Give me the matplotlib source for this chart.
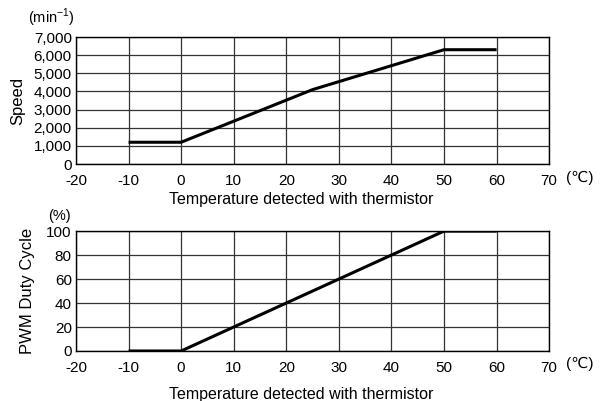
import matplotlib
matplotlib.use("Agg")
import matplotlib.pyplot as plt

plt.rcParams["font.family"] = ["Liberation Sans", "DejaVu Sans"]

temp_ticks = [-20, -10, 0, 10, 20, 30, 40, 50, 60, 70]
temp_labels = ["-20", "-10", "0", "10", "20", "30", "40", "50", "60", "70"]

speed_temp = [-10, 0, 25, 50, 60]
speed_rpm = [1200, 1200, 4100, 6300, 6300]
speed_ticks = [0, 1000, 2000, 3000, 4000, 5000, 6000, 7000]
speed_labels = ["0", "1,000", "2,000", "3,000", "4,000", "5,000", "6,000", "7,000"]

duty_temp = [-10, 0, 50, 60]
duty_pct = [0, 0, 100, 100]
duty_ticks = [0, 20, 40, 60, 80, 100]

fig = plt.figure(figsize=(6.02, 4.01), dpi=100)
ax1 = fig.add_axes([0.1262, 0.591, 0.786, 0.3167])
ax2 = fig.add_axes([0.1262, 0.1247, 0.786, 0.299])


def style(ax, yticks, ylabels, ylim, xpad):
    ax.set_xlim(-20, 70)
    ax.set_ylim(*ylim)
    ax.set_xticks(temp_ticks)
    ax.set_xticklabels(temp_labels)
    ax.set_yticks(yticks)
    ax.set_yticklabels(ylabels)
    ax.tick_params(length=0, labelsize=11)
    ax.tick_params(axis="x", pad=7)
    ax.tick_params(axis="y", pad=3)
    ax.grid(True, color="#333333", lw=0.9)
    for s in ax.spines.values():
        s.set_linewidth(1.0)
        s.set_color("black")
    ax.set_xlabel("Temperature detected with thermistor", fontsize=11.5,
                  labelpad=xpad, x=0.475)
    ax.text(1.036, -0.11, "(℃)", transform=ax.transAxes, fontsize=11,
            ha="left", va="center")


style(ax1, speed_ticks, speed_labels, (0, 7000), 3)
ax1.plot(speed_temp, speed_rpm, color="black", lw=2.2, solid_capstyle="butt")
ax1.set_ylabel("Speed", fontsize=12, labelpad=6)
ax1.text(-0.053, 1.06, "(min$^{\\mathregular{-1}}$)", transform=ax1.transAxes,
         fontsize=10.5, ha="center", va="bottom")

style(ax2, duty_ticks, [str(v) for v in duty_ticks], (0, 100), 9)
ax2.plot(duty_temp, duty_pct, color="black", lw=2.2, solid_capstyle="butt")
ax2.set_ylabel("PWM Duty Cycle", fontsize=12, labelpad=8)
ax2.text(-0.034, 1.07, "(%)", transform=ax2.transAxes,
         fontsize=10.5, ha="center", va="bottom")

fig.savefig("out.png", dpi=100)
